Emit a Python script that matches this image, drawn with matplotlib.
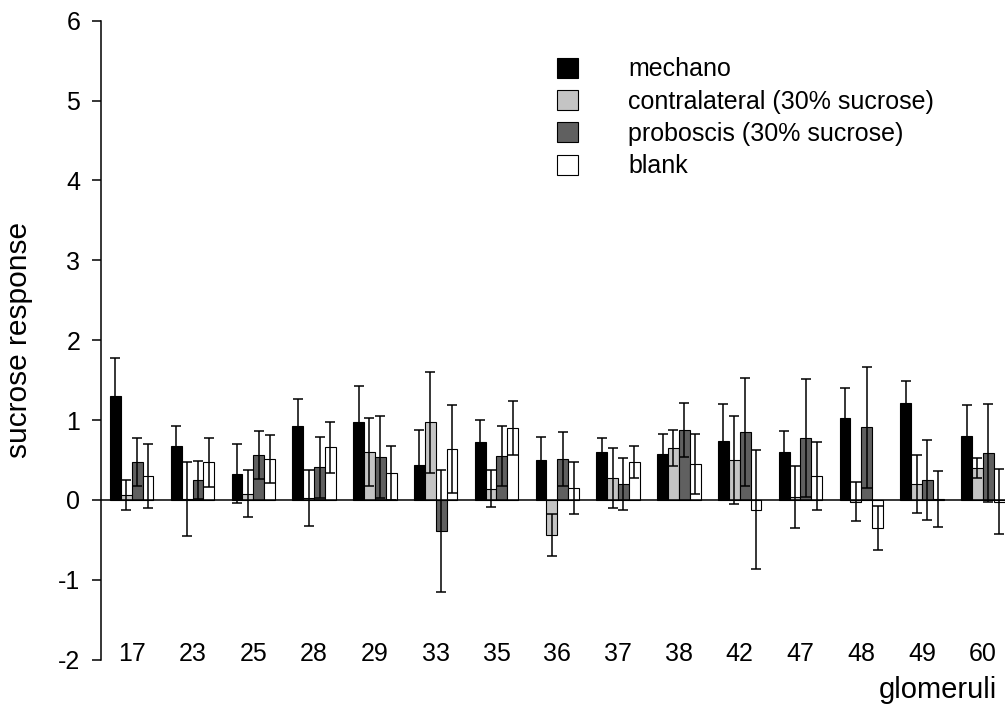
import matplotlib
matplotlib.use("Agg")
import matplotlib.pyplot as plt
import numpy as np
from matplotlib.patches import Patch

plt.rcParams['font.family'] = ['Liberation Sans', 'DejaVu Sans']
plt.rcParams['axes.unicode_minus'] = False

categories = ['17', '23', '25', '28', '29', '33', '35', '36', '37', '38', '42', '47', '48', '49', '60']

mechano = [1.30, 0.67, 0.33, 0.92, 0.97, 0.44, 0.73, 0.50, 0.60, 0.58, 0.74, 0.60, 1.02, 1.22, 0.80]
mechano_err = [0.48, 0.26, 0.37, 0.34, 0.46, 0.44, 0.27, 0.29, 0.17, 0.24, 0.46, 0.26, 0.38, 0.27, 0.39]

contralateral = [0.06, 0.01, 0.08, 0.02, 0.60, 0.97, 0.14, -0.44, 0.28, 0.65, 0.50, 0.04, -0.02, 0.20, 0.40]
contralateral_err = [0.19, 0.46, 0.29, 0.35, 0.43, 0.63, 0.23, 0.26, 0.375, 0.22, 0.55, 0.39, 0.24, 0.36, 0.12]

proboscis = [0.47, 0.25, 0.56, 0.41, 0.54, -0.39, 0.55, 0.51, 0.20, 0.88, 0.85, 0.78, 0.91, 0.25, 0.59]
proboscis_err = [0.30, 0.24, 0.30, 0.38, 0.51, 0.76, 0.37, 0.34, 0.32, 0.34, 0.68, 0.74, 0.76, 0.50, 0.61]

blank = [0.30, 0.47, 0.51, 0.66, 0.34, 0.64, 0.90, 0.15, 0.47, 0.45, -0.12, 0.30, -0.35, 0.01, -0.02]
blank_err = [0.40, 0.31, 0.30, 0.32, 0.34, 0.55, 0.34, 0.33, 0.20, 0.37, 0.75, 0.42, 0.28, 0.35, 0.41]

series_labels = ['mechano', 'contralateral (30% sucrose)', 'proboscis (30% sucrose)', 'blank']
series_values = [mechano, contralateral, proboscis, blank]
series_errors = [mechano_err, contralateral_err, proboscis_err, blank_err]
series_colors = ['#000000', '#c4c4c4', '#606060', '#ffffff']

fig = plt.figure(figsize=(10.05, 7.11), dpi=100)
ax = fig.add_axes([101 / 1005, 1 - 659.7 / 711, 1 - 101 / 1005, 639 / 711])

x = np.arange(len(categories))
w = 0.178
for k, (vals, errs, col) in enumerate(zip(series_values, series_errors, series_colors)):
    pos = x + (k - 1.5) * w
    ax.bar(pos, vals, width=w, color=col, edgecolor='black', linewidth=0.8, zorder=2)
    ax.errorbar(pos, vals, yerr=errs, fmt='none', ecolor='black', elinewidth=1.1,
                capsize=3.6, capthick=1.1, zorder=3)

ax.axhline(0, color='black', linewidth=1.1, zorder=4)

ax.set_ylim(-2, 6)
ax.set_xlim(-0.505, 14.364)
ax.set_yticks(range(-2, 7))
ax.set_xticks(x)
ax.set_xticklabels(categories)

for s in ['top', 'right', 'bottom']:
    ax.spines[s].set_visible(False)
ax.spines['left'].set_linewidth(1.1)
ax.tick_params(axis='y', direction='out', length=6.5, width=1.1, pad=8.5, labelsize=18)
ax.tick_params(axis='x', length=0, pad=-4, labelsize=18)
for lab in ax.get_xticklabels():
    lab.set_va('center')

ax.set_ylabel('sucrose response', fontsize=21.5)
ax.yaxis.set_label_coords(-0.0752, 0.5)
ax.set_xlabel('glomeruli', fontsize=21)
ax.xaxis.set_label_coords((938 - 101) / 904, -0.026)

handles = [Patch(facecolor=c, edgecolor='black', linewidth=0.8) for c in series_colors]
ax.legend(handles, series_labels, loc='upper left', bbox_to_anchor=((556.7 - 101) / 904, 1 - (57.5 - 20.7) / 639),
          frameon=False, fontsize=18, handlelength=0.86, handleheight=0.86, handletextpad=2.0,
          labelspacing=0.33, borderpad=0, borderaxespad=0)

fig.savefig('out.png', dpi=100)
